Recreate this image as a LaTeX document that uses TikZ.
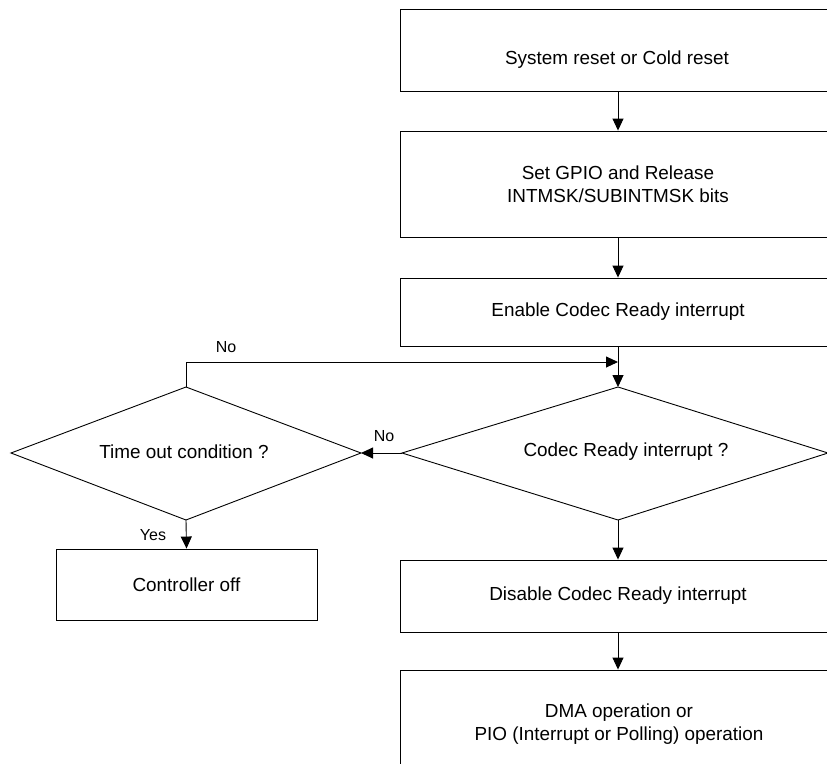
\documentclass[tikz,border=0pt]{standalone}
\usepackage{fontspec}
\setmainfont{Liberation Sans}
\usetikzlibrary{arrows.meta}
\begin{document}
\begin{tikzpicture}[x=1pt,y=-1pt,
  line width=0.9pt,
  boxnode/.style={draw, rectangle, inner sep=0pt, align=center,
     font=\fontsize{18.9}{22.5}\selectfont},
  txt/.style={inner sep=0pt, align=center, font=\fontsize{18.9}{22.5}\selectfont},
  lbl/.style={inner sep=0pt, font=\fontsize{16}{19}\selectfont},
  arr/.style={-{Triangle[length=12pt,width=11pt]}}]
\useasboundingbox (0,0) rectangle (827,771);
\clip (0,0) rectangle (827,771);
% boxes
\node[boxnode, minimum width=436, minimum height=82] (b1) at (618,50) {};
\node[txt] (t1) at (617,60) {System reset or Cold reset};
\node[boxnode, minimum width=436, minimum height=106] (b2) at (618,184) {Set GPIO and Release\\INTMSK/SUBINTMSK bits};
\node[boxnode, minimum width=436, minimum height=68] (b3) at (618,312) {Enable Codec Ready interrupt};
% diamond 1
\coordinate (d1t) at (618,387);
\coordinate (d1r) at (828,453);
\coordinate (d1b) at (618,520);
\coordinate (d1l) at (402,453);
\draw (d1t) -- (d1r) -- (d1b) -- (d1l) -- cycle;
\node[txt] (d1) at (626,452) {Codec Ready interrupt ?};
% diamond 2
\coordinate (d2t) at (186,387);
\coordinate (d2r) at (361,453);
\coordinate (d2b) at (186,520);
\coordinate (d2l) at (11,453);
\draw (d2t) -- (d2r) -- (d2b) -- (d2l) -- cycle;
\node[txt] (d2) at (184,452) {Time out condition ?};
% controller off
\node[boxnode, minimum width=261, minimum height=71] (c) at (186.5,584.5) {Controller off};
% disable
\node[boxnode, minimum width=436, minimum height=72] (dis) at (618,596) {Disable Codec Ready interrupt};
% DMA box (cut off at bottom)
\begin{scope}
\clip (0,0) rectangle (827,763);
\node[boxnode, minimum width=436, minimum height=180] (dma) at (618,760) {};
\end{scope}
\node[txt] (t6) at (619,724) {DMA operation or\\PIO (Interrupt or Polling) operation};
% connectors
\coordinate (m) at (618,362);
\draw[arr] (b1.south) -- (b2.north);
\draw[arr] (b2.south) -- (b3.north);
\draw[arr] (b3.south) -- (d1t);
\draw[arr] (d2t) |- (m);
\node[lbl] (no1) at (226,347) {No};
\draw[arr] (d1l) -- (d2r);
\node[lbl] (no2) at (384,436) {No};
\draw[arr] (d2b) -- (c.north);
\node[lbl] (yes) at (153,535) {Yes};
\draw[arr] (d1b) -- (dis.north);
\draw[arr] (dis.south) -- (dma.north);
\end{tikzpicture}
\end{document}
